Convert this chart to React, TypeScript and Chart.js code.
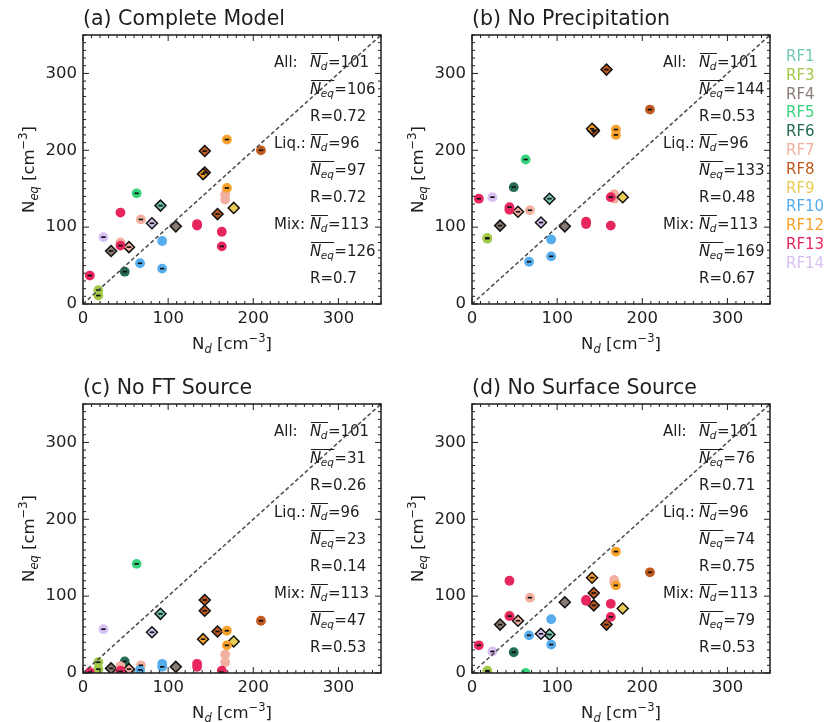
import React, { useEffect, useRef } from 'react';
import { Chart, registerables } from 'chart.js';
Chart.register(...registerables);

// ---------------- data ----------------
const flightNames = ['RF1', 'RF3', 'RF4', 'RF5', 'RF6', 'RF7', 'RF8', 'RF9', 'RF10', 'RF12', 'RF13', 'RF14'];
const flightColors = ['#74c9b6', '#a3c94a', '#8b7b77', '#35d47c', '#236b55', '#f2b0a0', '#c05a20', '#e7cd55', '#56adee', '#f7a02a', '#e8265e', '#d8c0f2'];

// one entry per observation (sorted by flight = drawing order)
const obsFlight = ['RF1', 'RF3', 'RF3', 'RF4', 'RF4', 'RF5', 'RF6', 'RF7', 'RF7', 'RF7', 'RF7', 'RF7', 'RF8', 'RF8', 'RF8', 'RF8', 'RF9', 'RF10', 'RF10', 'RF10', 'RF12', 'RF12', 'RF12', 'RF13', 'RF13', 'RF13', 'RF13', 'RF13', 'RF13', 'RF13', 'RF14', 'RF14'];
const obsPhase = ['mix', 'liq', 'liq', 'mix', 'mix', 'liq', 'liq', 'liq', 'liq', 'liq', 'liq', 'mix', 'liq', 'mix', 'mix', 'mix', 'mix', 'liq', 'liq', 'liq', 'liq', 'liq', 'mix', 'liq', 'liq', 'liq', 'liq', 'liq', 'liq', 'liq', 'liq', 'mix'];
const obsNd = [91, 18, 18, 109, 33, 63, 49, 167, 167, 68, 44, 54, 209, 143, 143, 158, 177, 93, 67, 93, 169, 169, 141, 44, 134, 134, 163, 163, 44, 8, 24, 81];
const obsDash = [1, 1, 1, 0, 1, 1, 1, 0, 0, 1, 0, 1, 1, 1, 1, 1, 0, 0, 1, 1, 1, 1, 1, 0, 0, 0, 0, 1, 1, 1, 1, 1];
const neqComplete = [128, 18, 11, 101, 69, 144, 42, 143, 136, 110, 80, 74, 200, 199, 171, 117, 125, 82, 53, 46, 214, 151, 169, 119, 104, 102, 94, 75, 76, 37, 87, 105];
const neqNoPrecip = [137, 86, 85, 101, 102, 188, 152, 143, 137, 122, 122, 120, 253, 226, 225, 305, 139, 84, 55, 62, 227, 220, 228, 123, 107, 104, 102, 139, 126, 137, 139, 106];
const neqNoFT = [77, 14, 5, 8, 6, 142, 15, 24, 14, 10, 9, 5, 68, 95, 81, 54, 41, 12, 4, 8, 55, 36, 44, 3, 12, 8, 3, 1, 2, 1, 57, 53];
const neqNoSurface = [50, 3, 2, 92, 63, 0, 27, 121, 118, 98, 75, 68, 131, 104, 88, 63, 84, 70, 49, 37, 158, 114, 124, 120, 95, 94, 90, 73, 74, 36, 28, 51];

const panelTitles = ['(a) Complete Model', '(b) No Precipitation', '(c) No FT Source', '(d) No Surface Source'];
const ndMeanAll = 101;
const ndMeanLiq = 96;
const ndMeanMix = 113;
const neqMeanAll = [106, 144, 31, 76];
const neqMeanLiq = [97, 133, 23, 74];
const neqMeanMix = [126, 169, 47, 79];
const rAll = ['0.72', '0.53', '0.26', '0.71'];
const rLiq = ['0.72', '0.48', '0.14', '0.75'];
const rMix = ['0.7', '0.67', '0.53', '0.53'];
const axisTicks = [0, 100, 200, 300];

const panelNeq = [neqComplete, neqNoPrecip, neqNoFT, neqNoSurface];

// ---------------- drawing helpers ----------------
const FAM = '"DejaVu Sans"';
const TXT = '#1e1e1e';

function colorOf(i: number) {
  return flightColors[flightNames.indexOf(obsFlight[i])];
}

type Seg = { t: string; size: number; italic?: boolean; dy?: number };

function segWidth(ctx: CanvasRenderingContext2D, segs: Seg[]) {
  let w = 0;
  for (const s of segs) {
    ctx.font = `${s.italic ? 'italic ' : ''}${s.size}px ${FAM}`;
    w += ctx.measureText(s.t).width;
  }
  return w;
}

function drawSegs(ctx: CanvasRenderingContext2D, segs: Seg[], x: number, y: number) {
  let cx = x;
  for (const s of segs) {
    ctx.font = `${s.italic ? 'italic ' : ''}${s.size}px ${FAM}`;
    ctx.fillText(s.t, cx, y + (s.dy || 0));
    cx += ctx.measureText(s.t).width;
  }
  return cx;
}

function drawMean(ctx: CanvasRenderingContext2D, x: number, base: number, sub: string, value: string | number) {
  ctx.textAlign = 'left';
  ctx.textBaseline = 'alphabetic';
  ctx.font = `italic 15px ${FAM}`;
  ctx.fillText('N', x, base);
  const w1 = ctx.measureText('N').width;
  ctx.font = `italic 10.5px ${FAM}`;
  ctx.fillText(sub, x + w1 - 0.5, base + 3.5);
  const w2 = ctx.measureText(sub).width;
  const end = x + w1 - 0.5 + w2;
  ctx.beginPath();
  ctx.lineWidth = 1;
  ctx.strokeStyle = TXT;
  ctx.moveTo(x + 1, base - 13);
  ctx.lineTo(end + 0.5, base - 13);
  ctx.stroke();
  ctx.font = `15px ${FAM}`;
  ctx.fillText('=' + value, end + 0.5, base);
}

function makeOverlay(p: number, legendX: number | null) {
  return {
    id: 'overlay' + p,
    afterDraw(chart: any) {
      const ctx: CanvasRenderingContext2D = chart.ctx;
      const { left, right, top, bottom } = chart.chartArea;
      const xs = chart.scales.x;
      const ys = chart.scales.y;
      ctx.save();
      // ticks (inward, all sides)
      ctx.strokeStyle = TXT;
      ctx.lineWidth = 1;
      ctx.beginPath();
      for (let v = 0; v <= 350; v += 10) {
        const len = v % 100 === 0 ? 6 : 3;
        const px = xs.getPixelForValue(v);
        ctx.moveTo(px, bottom);
        ctx.lineTo(px, bottom - len);
        ctx.moveTo(px, top);
        ctx.lineTo(px, top + len);
        const py = ys.getPixelForValue(v);
        ctx.moveTo(left, py);
        ctx.lineTo(left + len, py);
        ctx.moveTo(right, py);
        ctx.lineTo(right - len, py);
      }
      ctx.stroke();
      // frame
      ctx.lineWidth = 1.5;
      ctx.strokeRect(left, top, right - left, bottom - top);

      ctx.fillStyle = TXT;
      // title
      ctx.textAlign = 'left';
      ctx.textBaseline = 'alphabetic';
      ctx.font = `20.5px ${FAM}`;
      ctx.fillText(panelTitles[p], left, top - 10);

      // statistics
      const x0 = left + 191;
      const x1 = left + 227;
      const b0 = top + 31.5;
      const dy = 27;
      const groups: [string, number, number, string][] = [
        ['All:', ndMeanAll, neqMeanAll[p], rAll[p]],
        ['Liq.:', ndMeanLiq, neqMeanLiq[p], rLiq[p]],
        ['Mix:', ndMeanMix, neqMeanMix[p], rMix[p]],
      ];
      groups.forEach((g, gi) => {
        const base = b0 + dy * gi * 3;
        ctx.font = `15px ${FAM}`;
        ctx.fillStyle = TXT;
        ctx.fillText(g[0], x0, base);
        drawMean(ctx, x1, base, 'd', g[1]);
        drawMean(ctx, x1, base + dy, 'eq', g[2]);
        ctx.font = `15px ${FAM}`;
        ctx.fillText('R=' + g[3], x1, base + 2 * dy);
      });

      // x axis title
      const xSegs: Seg[] = [
        { t: 'N', size: 16.5 },
        { t: 'd', size: 11.5, italic: true, dy: 4 },
        { t: ' [cm', size: 16.5 },
        { t: '\u22123', size: 11.5, dy: -7 },
        { t: ']', size: 16.5 },
      ];
      const xw = segWidth(ctx, xSegs);
      drawSegs(ctx, xSegs, (left + right) / 2 - xw / 2, bottom + 45);

      // y axis title
      const ySegs: Seg[] = [
        { t: 'N', size: 16.5 },
        { t: 'eq', size: 11.5, italic: true, dy: 4 },
        { t: ' [cm', size: 16.5 },
        { t: '\u22123', size: 11.5, dy: -7 },
        { t: ']', size: 16.5 },
      ];
      const yw = segWidth(ctx, ySegs);
      ctx.save();
      ctx.translate(left - 49, (top + bottom) / 2);
      ctx.rotate(-Math.PI / 2);
      drawSegs(ctx, ySegs, -yw / 2, 0);
      ctx.restore();

      // legend of flights
      if (legendX !== null) {
        ctx.font = `15px ${FAM}`;
        flightNames.forEach((n, i) => {
          ctx.fillStyle = flightColors[i];
          ctx.fillText(n, legendX, 61 + 18.8 * i);
        });
      }
      ctx.restore();
    },
  };
}

type PanelProps = {
  p: number;
  left: number;
  top: number;
  width: number;
  height: number;
  area: { l: number; r: number; t: number; b: number };
  legendX: number | null;
};

function Panel({ p, left, top, width, height, area, legendX }: PanelProps) {
  const ref = useRef<HTMLCanvasElement>(null);
  useEffect(() => {
    const neq = panelNeq[p];
    const points = obsNd.map((x, i) => ({ x, y: neq[i] }));
    const dashPoints = obsNd
      .map((x, i) => ({ x, y: neq[i], d: obsDash[i] }))
      .filter((q) => q.d === 1)
      .map((q) => ({ x: q.x, y: q.y }));
    const tickFont = { family: 'DejaVu Sans', size: 16.5 };
    const chart = new Chart(ref.current as HTMLCanvasElement, {
      type: 'scatter',
      data: {
        datasets: [
          {
            type: 'line',
            data: [
              { x: 0, y: 0 },
              { x: 350, y: 350 },
            ],
            borderColor: '#4a4a4a',
            borderWidth: 1.5,
            borderDash: [4, 2.5],
            pointRadius: 0,
            order: 0,
          } as any,
          {
            data: dashPoints,
            pointStyle: 'line',
            pointRadius: 2.2,
            borderColor: '#111',
            backgroundColor: '#111',
            borderWidth: 1.7,
            order: 1,
            clip: 0,
          } as any,
          {
            data: points,
            pointStyle: (c: any) => (obsPhase[c.dataIndex] === 'mix' ? 'rectRot' : 'circle'),
            pointRadius: (c: any) => (obsPhase[c.dataIndex] === 'mix' ? 5.5 : 4.9),
            backgroundColor: (c: any) => colorOf(c.dataIndex),
            borderColor: (c: any) => (obsPhase[c.dataIndex] === 'mix' ? '#111' : colorOf(c.dataIndex)),
            borderWidth: (c: any) => (obsPhase[c.dataIndex] === 'mix' ? 1.5 : 0),
            order: 2,
            clip: 0,
          } as any,
        ],
      },
      options: {
        animation: false,
        responsive: false,
        devicePixelRatio: 1,
        events: [],
        layout: {
          autoPadding: false,
          padding: { left: 0, top: area.t, right: width - area.r, bottom: 0 },
        },
        plugins: { legend: { display: false }, tooltip: { enabled: false } },
        scales: {
          x: {
            type: 'linear',
            min: 0,
            max: 350,
            afterBuildTicks: (s: any) => {
              s.ticks = axisTicks.map((v) => ({ value: v }));
            },
            ticks: { font: tickFont, color: TXT, padding: 5, maxRotation: 0, includeBounds: false },
            grid: { display: false, drawTicks: false },
            border: { display: false },
            afterFit: (s: any) => {
              s.height = height - area.b;
            },
          },
          y: {
            type: 'linear',
            min: 0,
            max: 350,
            afterBuildTicks: (s: any) => {
              s.ticks = axisTicks.map((v) => ({ value: v }));
            },
            ticks: { font: tickFont, color: TXT, padding: 6, includeBounds: false },
            grid: { display: false, drawTicks: false },
            border: { display: false },
            afterFit: (s: any) => {
              s.width = area.l;
            },
          },
        },
      } as any,
      plugins: [makeOverlay(p, legendX)],
    });
    return () => chart.destroy();
  }, []);
  return (
    <canvas
      ref={ref}
      width={width}
      height={height}
      style={{ position: 'absolute', left, top, width, height }}
    />
  );
}

export default function App() {
  return (
    <div style={{ position: 'absolute', left: 0, top: 0, width: 825, height: 722, background: '#fff', overflow: 'hidden' }}>
      <Panel p={0} left={0} top={0} width={395} height={362} area={{ l: 83, r: 381, t: 35, b: 304 }} legendX={null} />
      <Panel p={1} left={395} top={0} width={430} height={362} area={{ l: 77, r: 375, t: 35, b: 304 }} legendX={391} />
      <Panel p={2} left={0} top={362} width={395} height={360} area={{ l: 83, r: 381, t: 42, b: 311 }} legendX={null} />
      <Panel p={3} left={395} top={362} width={430} height={360} area={{ l: 77, r: 375, t: 42, b: 311 }} legendX={null} />
    </div>
  );
}
